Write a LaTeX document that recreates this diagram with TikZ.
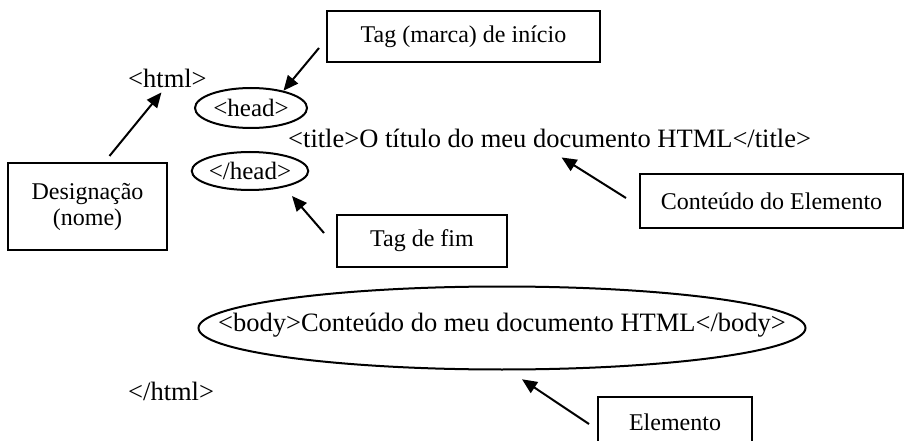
\documentclass[tikz,border=0pt]{standalone}
\usepackage{fontspec}
\setmainfont{Liberation Serif}
\usetikzlibrary{shapes.geometric,arrows.meta,calc}

\begin{document}
\begin{tikzpicture}
[
x=1pt,y=-1pt,
every node/.style={font=\fontsize{26.5}{30}\selectfont},
note/.style 2 args={draw,line width=2pt,inner sep=0pt,minimum width=#1,minimum height=#2,align=center,font=\fontsize{24}{26}\selectfont},
ring/.style 2 args={draw,ellipse,line width=2pt,inner sep=0pt,minimum width=#1,minimum height=#2,font=\fontsize{25}{28}\selectfont},
pointer/.style={-{Triangle[length=15pt,width=13pt]},line width=2pt},
]
\useasboundingbox (0,0) rectangle (906,441);

\node[note={273pt}{51pt}] (tagini) at (463.5,36.5) {Tag (marca) de início};
\node[anchor=base west,inner sep=1pt] (html) at (127,88) {<html>};
\node[ring={112pt}{40pt}] (head) at (251,108) {<head>};
\node[anchor=base west,inner sep=1pt] (title) at (287,148) {<title>O título do meu documento HTML</title>};
\node[ring={114pt}{38pt}] (endhead) at (250,171) {</head>};
\node[note={159pt}{87pt}] (desig) at (87.5,206.5) {Designação\\(nome)};
\node[note={170pt}{52pt}] (tagfim) at (422,241) {Tag de fim};
\node[note={263pt}{54pt}] (cont) at (771.5,201) {Conteúdo do Elemento};
\node[inner sep=0pt] (body) at (502,325) {<body>Conteúdo do meu documento HTML</body>};
\draw[line width=2pt] (502,328) ellipse [x radius=303.5pt,y radius=41.5pt];
\node[anchor=base west,inner sep=1pt] (endhtml) at (127,400) {</html>};
\node[note={154pt}{50pt}] (elem) at (675,422) {Elemento};

\draw[pointer] ($(desig.north)+(22,-6)$) to ($(html.south)+(-6,3)$);
\draw[pointer] ($(tagini.west)+(-7,11.5)$) to (head.28);
\draw[pointer] ($(tagfim.west)+(-12,-8)$) to ($(endhead.south)+(42,5)$);
\draw[pointer] ($(cont.west)+(-13,-3)$) to ($(title.south)+(12,8)$);
\draw[pointer] ($(elem.west)+(-8,2)$) to ($(body.south)+(20,42)$);

\end{tikzpicture}
\end{document}
